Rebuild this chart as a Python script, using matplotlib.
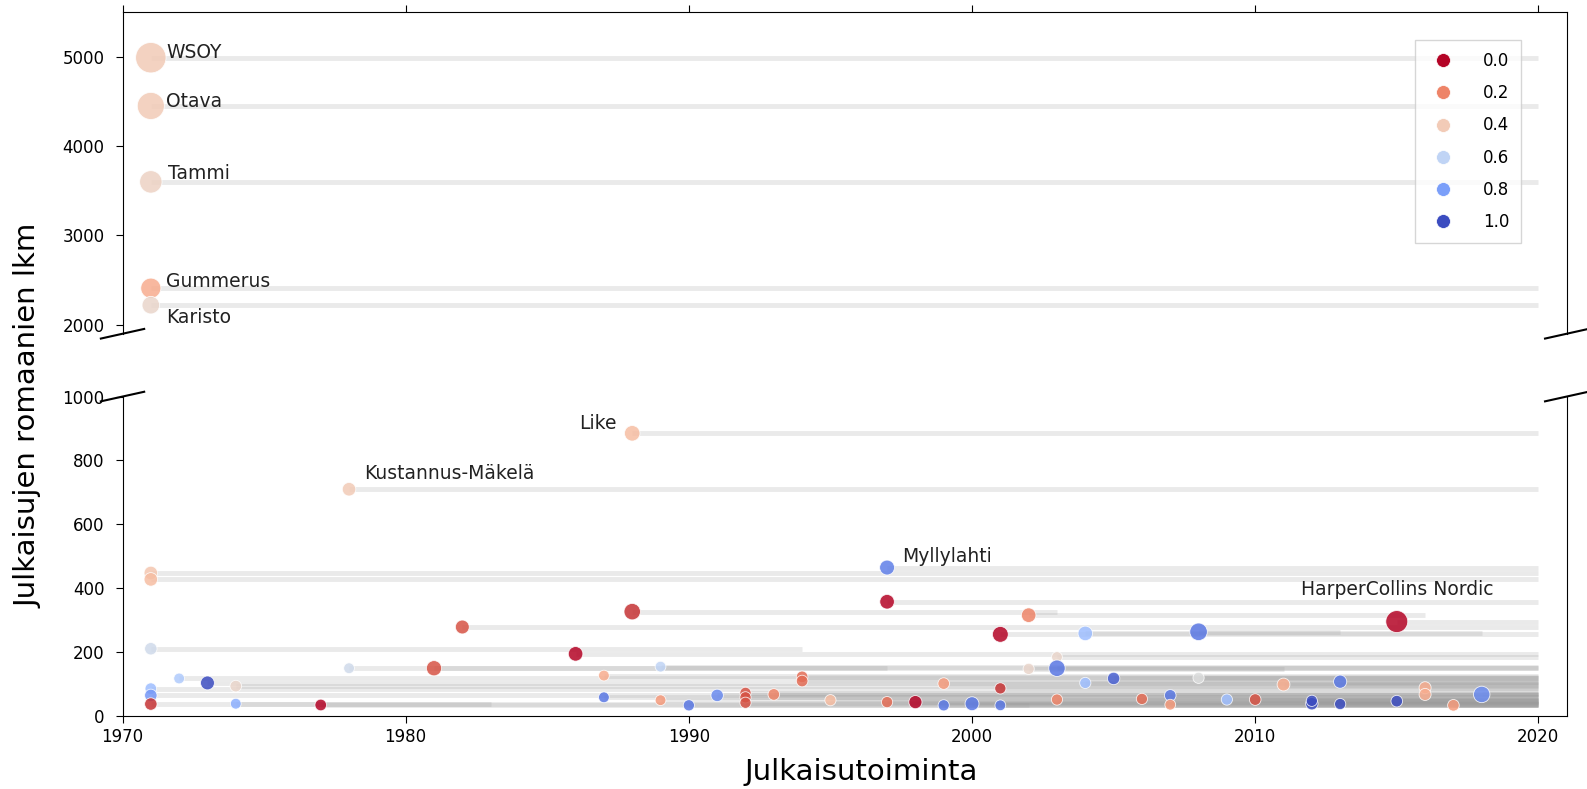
import matplotlib
matplotlib.use("Agg")
import matplotlib.pyplot as plt
from matplotlib.lines import Line2D

# one row per publisher: first year, novels published, hue share, marker area, last year
years = [1971, 1971, 1971, 1971, 1971,
         1988, 1978, 1997, 2015,
         1971, 1971, 1971, 1971, 1971, 1971, 1972, 1973, 1974, 1974,
         1977, 1978, 1981, 1982, 1986, 1987, 1987, 1988, 1989, 1989,
         1990, 1991, 1992, 1992, 1992, 1993, 1994, 1994, 1995, 1997,
         1997, 1998, 1999, 1999, 2000, 2001, 2001, 2001, 2002, 2002,
         2003, 2003, 2003, 2004, 2004, 2005, 2006, 2007, 2007, 2008,
         2008, 2009, 2010, 2011, 2012, 2012, 2013, 2013, 2015, 2016,
         2016, 2017, 2018]
counts = [4990, 4450, 3600, 2410, 2220,
          885, 710, 465, 296,
          448, 428, 211, 86, 65, 38, 118, 104, 94, 39,
          35, 150, 150, 279, 195, 127, 59, 327, 155, 50,
          34, 65, 73, 59, 42, 68, 123, 110, 50, 358,
          44, 44, 102, 34, 39, 256, 87, 34, 316, 148,
          185, 150, 52, 259, 104, 118, 54, 65, 36, 264,
          120, 52, 52, 99, 39, 48, 108, 38, 47, 89,
          68, 34, 68]
shares = [0.40, 0.40, 0.43, 0.30, 0.45,
          0.35, 0.40, 0.88, 0.00,
          0.38, 0.35, 0.55, 0.70, 0.82, 0.05, 0.65, 1.00, 0.45, 0.75,
          0.00, 0.55, 0.10, 0.10, 0.00, 0.30, 0.90, 0.05, 0.60, 0.25,
          0.90, 0.85, 0.10, 0.10, 0.10, 0.20, 0.15, 0.15, 0.35, 0.00,
          0.15, 0.00, 0.25, 0.90, 0.90, 0.00, 0.05, 0.90, 0.20, 0.45,
          0.45, 0.90, 0.20, 0.70, 0.70, 0.95, 0.15, 0.90, 0.25, 0.90,
          0.50, 0.70, 0.10, 0.30, 1.00, 1.00, 0.90, 1.00, 1.00, 0.30,
          0.30, 0.25, 0.85]
sizes = [480, 380, 260, 210, 160,
         125, 95, 115, 250,
         95, 95, 80, 70, 80, 80, 60, 100, 70, 60,
         70, 60, 120, 100, 110, 60, 60, 140, 60, 60,
         65, 80, 65, 65, 65, 70, 70, 70, 65, 110,
         65, 90, 70, 65, 100, 130, 65, 60, 110, 65,
         60, 140, 65, 110, 65, 80, 65, 70, 60, 160,
         65, 65, 70, 85, 80, 65, 90, 65, 70, 75,
         75, 70, 140]
ends = [2020, 2020, 2020, 2020, 2020,
        2020, 2020, 2020, 2020,
        2020, 2020, 1994, 2020, 2020, 1983, 2020, 2020, 2020, 2020,
        2020, 1997, 2020, 2020, 2020, 2020, 2020, 2003, 2020, 2020,
        2020, 2020, 2020, 2020, 2020, 2020, 2020, 2020, 2020, 2020,
        2020, 2020, 2020, 2020, 2020, 2020, 2020, 2002, 2016, 2011,
        2020, 2020, 2020, 2018, 2020, 2020, 2020, 2020, 2020, 2013,
        2020, 2020, 2020, 2020, 2020, 2020, 2020, 2020, 2020, 2020,
        2020, 2020, 2020]

# named publishers: index into the rows above, text offset (points), alignment
label_names = ["WSOY", "Otava", "Tammi", "Gummerus", "Karisto",
               "Like", "Kustannus-Mäkelä", "Myllylahti", "HarperCollins Nordic"]
label_rows = [0, 1, 2, 3, 4, 5, 6, 7, 8]
label_offsets = [(11, 4), (11, 3), (12, 6), (11, 5), (11, -9),
                 (-11, 7), (11, 11), (11, 8), (0, 23)]
label_ha = ["left"] * 5 + ["right", "left", "left", "center"]

legend_values = [0.0, 0.2, 0.4, 0.6, 0.8, 1.0]

cmap = plt.get_cmap("coolwarm_r")
FS = 12
LFS = 13.5

fig = plt.figure(figsize=(15.87, 7.89), dpi=100)
left, width = 0.0772, 0.91
ax1 = fig.add_axes([left, 0.577, width, 0.4076])
ax2 = fig.add_axes([left, 0.0923, width, 0.4051])

for ax in (ax1, ax2):
    ax.hlines(counts, years, ends, color="#999999", alpha=0.2, lw=3.5, zorder=1)
    ax.scatter(years, counts, c=shares, cmap=cmap, vmin=0, vmax=1, s=sizes,
               alpha=0.85, edgecolors="white", linewidths=0.6, zorder=3)
    ax.set_xlim(1970, 2021)
    ax.tick_params(labelsize=FS, length=5)
    ax.tick_params(axis="y", pad=8)

ax1.set_ylim(1900, 5500)
ax2.set_ylim(0, 1000)
ax1.set_yticks([2000, 3000, 4000, 5000])
ax2.set_yticks([0, 200, 400, 600, 800, 1000])
ax2.set_xticks([1970, 1980, 1990, 2000, 2010, 2020])
ax1.set_xticks([1970, 1980, 1990, 2000, 2010, 2020])

ax1.spines["bottom"].set_visible(False)
ax2.spines["top"].set_visible(False)
ax1.xaxis.tick_top()
ax1.tick_params(labeltop=False)
ax2.xaxis.tick_bottom()

# diagonal break marks
d = 0.015
kw = dict(transform=ax1.transAxes, color="k", clip_on=False, lw=1.5)
ax1.plot((-d, +d), (-d, +d), **kw)
ax1.plot((1 - d, 1 + d), (-d, +d), **kw)
kw.update(transform=ax2.transAxes)
ax2.plot((-d, +d), (1 - d, 1 + d), **kw)
ax2.plot((1 - d, 1 + d), (1 - d, 1 + d), **kw)

for name, i, off, ha in zip(label_names, label_rows, label_offsets, label_ha):
    ax = ax1 if counts[i] > 1000 else ax2
    ax.annotate(name, (years[i], counts[i]), xytext=off, textcoords="offset points",
                ha=ha, va="center", fontsize=LFS, color="#222222", zorder=4)

handles = [Line2D([], [], marker="o", ls="", color=cmap(v), markersize=10,
                  markeredgecolor="white", markeredgewidth=0.5) for v in legend_values]
ax1.legend(handles, [f"{v:.1f}" for v in legend_values], loc="upper right",
           bbox_to_anchor=(0.9685, 0.912), borderaxespad=0, fontsize=FS,
           labelspacing=0.85, handletextpad=1.4, borderpad=0.7, fancybox=False,
           edgecolor="#cccccc")

ax2.set_xlabel("Julkaisutoiminta", fontsize=21)
ax2.xaxis.set_label_coords(0.5116, -0.13)
fig.text(0.018, 0.473, "Julkaisujen romaanien lkm", rotation=90, ha="center",
         va="center", fontsize=21)

fig.savefig("out.png", dpi=100)
